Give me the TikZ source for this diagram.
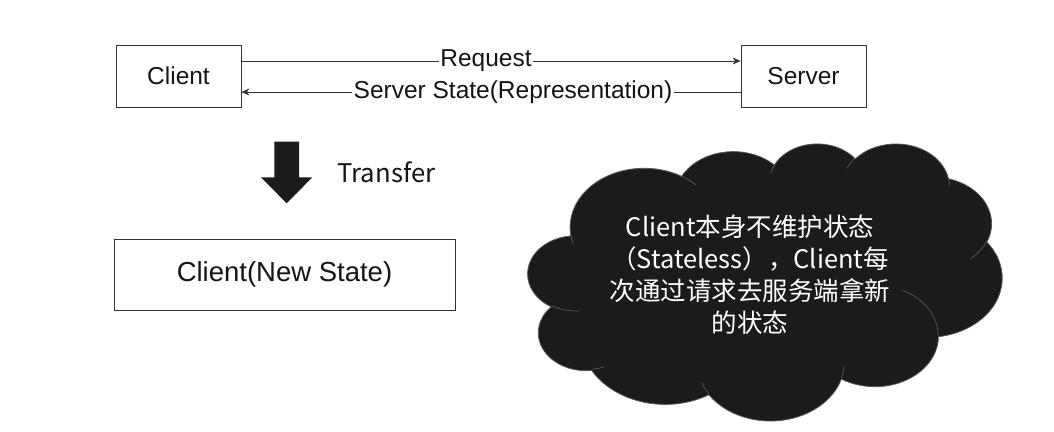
\documentclass[tikz,border=0pt]{standalone}
\usepackage{fontspec}
\setmainfont{Liberation Sans}
\newfontfamily\cjkfont{Noto Sans CJK SC}
\usetikzlibrary{arrows.meta,calc}
\definecolor{linegray}{HTML}{333333}
\definecolor{cloudfill}{HTML}{1B1B1B}
\definecolor{cloudline}{HTML}{5A5A5A}
\definecolor{txt}{HTML}{151515}
\tikzset{
  box/.style={draw=linegray, line width=0.8pt, fill=white, inner sep=0pt, text=txt},
  lbl/.style={fill=white, inner sep=1.5pt, text=txt, font=\fontsize{24.5}{28}\selectfont},
  conn/.style={draw=linegray, line width=0.8pt, -{Stealth[length=8pt,width=7pt,inset=2.5pt]}},
  cloudbody/.style={fill=cloudfill, draw=cloudline, line width=0.8pt},
  cloudinner/.style={draw=cloudline, line width=0.7pt},
}
% elliptical arc with geometric (visual) start angle and sweep, as in office shapes
\newcommand\oarc[4]{arc[x radius=#1, y radius=#2,
  start angle={atan2(#1*sin(#3),#2*cos(#3))},
  delta angle={mod(atan2(#1*sin(#3+#4),#2*cos(#3+#4))-atan2(#1*sin(#3),#2*cos(#3))+720,360)}]}
\begin{document}
\begin{tikzpicture}[x=1pt,y=-1pt]
\useasboundingbox (0,0) rectangle (1054,431);
\fill[white] (0,0) rectangle (1054,431);

\node[box, minimum width=125pt, minimum height=62pt, font=\fontsize{24.5}{28}\selectfont] (client) at (178.5,76) {Client};
\node[box, minimum width=125pt, minimum height=62pt, font=\fontsize{24.5}{28}\selectfont] (server) at (803.5,76) {Server};

\draw[conn] ($(client.east)+(0,-15)$) -- ($(server.west)+(0,-15)$);
\draw[conn] ($(server.west)+(0,16)$) -- ($(client.east)+(0,16)$);
\node[lbl] (req) at (486,61) {Request};
\node[lbl] (rep) at (513,92) {Server State(Representation)};

% big transfer arrow
\fill[cloudfill] (274.3,141.7) -- (299,141.7) -- (299,177.3) -- (312.3,177.3)
  -- (286.7,203.3) -- (261,177.3) -- (274.3,177.3) -- cycle;
\node[text=txt, font=\cjkfont\fontsize{25.7}{30}\selectfont] (transfer) at (386.5,172) {Transfer};

\node[box, minimum width=341pt, minimum height=71pt, font=\fontsize{27.5}{32}\selectfont] (newstate) at (284.5,274.5) {Client(New State)};

% cloud (office-style cloud shape, in a 4320 x 4320 frame)
\begin{scope}[shift={(528,143)}, x=0.109722pt, y=-0.064120pt]
\path[cloudbody] (390,1437)
  \oarc{675.3}{919.0}{-190.48748}{123.78053}
  \oarc{533.3}{726.7}{-144.10238}{89.94523}
  \oarc{436.5}{594.5}{-145.80792}{99.72302}
  \oarc{485.7}{659.5}{-130.98607}{117.24173}
  \oarc{533.3}{727.3}{-78.70888}{109.02692}
  \oarc{677.5}{922.0}{-46.26725}{130.26900}
  \oarc{578.5}{786.7}{0.62502}{114.03333}
  \oarc{675.2}{921.5}{22.45160}{115.17255}
  \oarc{772.0}{1054.3}{66.24263}{75.71102}
  \oarc{436.0}{591.8}{-274.94208}{146.73557}
  \oarc{434.5}{594.5}{-246.82850}{152.51885}
  -- cycle;
\path[cloudinner]
  (469.3,2617.7) \oarc{434.5}{594.5}{86.74200}{26.42950}
  (692.8,3489.9) \oarc{436.0}{591.8}{73.61047}{11.44747}
  (1647.8,3909.0) \oarc{675.2}{921.5}{137.62415}{14.08110}
  (2882.7,3475.1) \oarc{675.2}{921.5}{6.45327}{15.99835}
  (3412.9,2295.4) \oarc{578.5}{786.7}{-70.29235}{70.91737}
  (4179.8,1535.4) \oarc{533.3}{727.3}{30.31803}{27.75150}
  (3832.4,542.6) \oarc{485.7}{659.5}{-13.74433}{14.85890}
  (2907.8,395.2) \oarc{485.7}{659.5}{-149.18145}{18.19537}
  (2214.1,472.0) \oarc{436.5}{594.5}{-163.49427}{17.68635}
  (1400.0,519.2) \oarc{675.3}{919.0}{-66.70695}{12.31935}
  (412.7,1578.9) \oarc{675.3}{919.0}{157.65435}{11.85817};
\end{scope}
\coordinate (cloudc) at (750,275);
\node[text=white, align=center, font=\cjkfont\fontsize{25.5}{32}\selectfont] (note) at (cloudc)
  {Client本身不维护状态\\（Stateless），Client每\\次通过请求去服务端拿新\\的状态};
\end{tikzpicture}
\end{document}
